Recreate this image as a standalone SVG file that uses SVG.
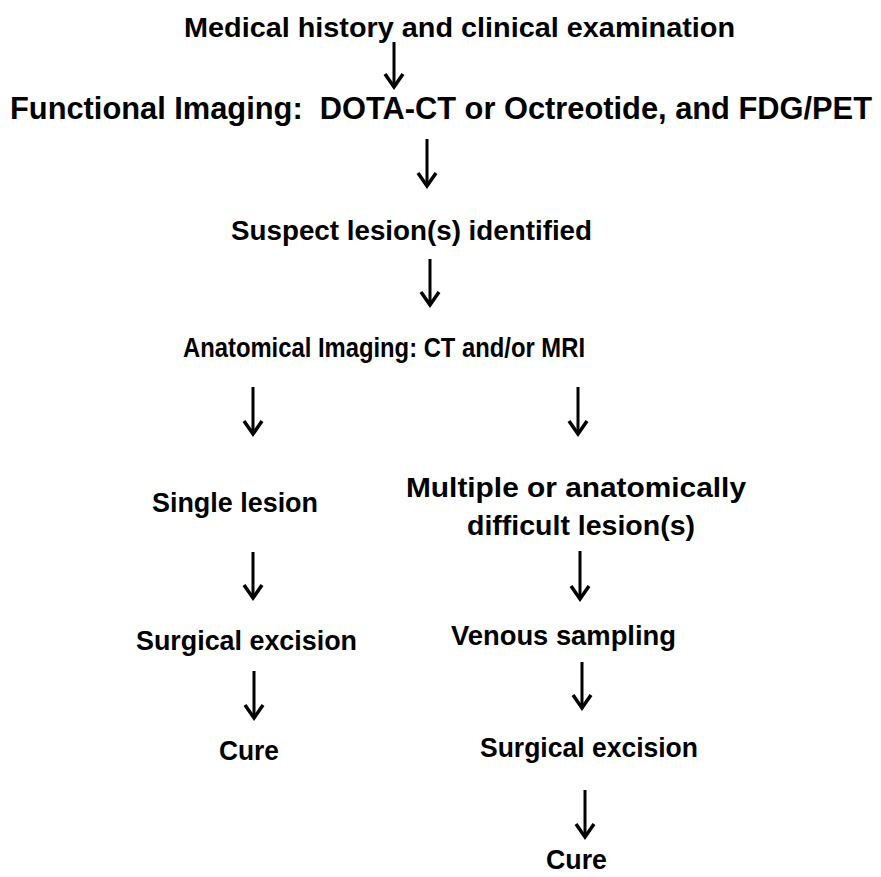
<svg xmlns="http://www.w3.org/2000/svg" width="881" height="877" viewBox="0 0 881 877">
<style>
text{font-family:"Liberation Sans",Arial,sans-serif;font-weight:bold;font-size:28px;fill:#000}
.big{font-size:31px}
.arr line{stroke:#000;stroke-width:3}
.arr polyline{fill:none;stroke:#000;stroke-width:3.5;stroke-linejoin:miter}
</style>
<rect width="881" height="877" fill="#fff"/>
<g id="n1"><text x="184" y="37" textLength="551" lengthAdjust="spacingAndGlyphs">Medical history and clinical examination</text></g>
<g id="n2"><text class="big" x="10" y="119" textLength="862" lengthAdjust="spacingAndGlyphs" xml:space="preserve">Functional Imaging:  DOTA-CT or Octreotide, and FDG/PET</text></g>
<g id="n3"><text x="231" y="240" textLength="361" lengthAdjust="spacingAndGlyphs">Suspect lesion(s) identified</text></g>
<g id="n4"><text x="183" y="357" textLength="402" lengthAdjust="spacingAndGlyphs">Anatomical Imaging: CT and/or MRI</text></g>
<g id="n5"><text x="152" y="512" textLength="166" lengthAdjust="spacingAndGlyphs">Single lesion</text></g>
<g id="n6"><text x="406" y="497" textLength="340" lengthAdjust="spacingAndGlyphs">Multiple or anatomically</text><text x="467" y="535" textLength="228" lengthAdjust="spacingAndGlyphs">difficult lesion(s)</text></g>
<g id="n7"><text x="136" y="650" textLength="221" lengthAdjust="spacingAndGlyphs">Surgical excision</text></g>
<g id="n8"><text x="451" y="645" textLength="225" lengthAdjust="spacingAndGlyphs">Venous sampling</text></g>
<g id="n9"><text x="219" y="760" textLength="60" lengthAdjust="spacingAndGlyphs">Cure</text></g>
<g id="n10"><text x="480" y="757" textLength="218" lengthAdjust="spacingAndGlyphs">Surgical excision</text></g>
<g id="n11"><text x="546" y="869" textLength="61" lengthAdjust="spacingAndGlyphs">Cure</text></g>
<g id="connectors" class="arr">
<line x1="394" y1="42" x2="394" y2="86"/><polyline points="385,74 394,87 403,74"/>
<line x1="427" y1="139" x2="427" y2="185"/><polyline points="418,173 427,186 436,173"/>
<line x1="430" y1="259" x2="430" y2="304"/><polyline points="421,292 430,305 439,292"/>
<line x1="253" y1="387" x2="253" y2="433"/><polyline points="244,421 253,434 262,421"/>
<line x1="578" y1="387" x2="578" y2="433"/><polyline points="569,421 578,434 587,421"/>
<line x1="253" y1="552" x2="253" y2="597"/><polyline points="244,585 253,598 262,585"/>
<line x1="580" y1="551" x2="580" y2="598"/><polyline points="571,586 580,599 589,586"/>
<line x1="254" y1="671" x2="254" y2="717"/><polyline points="245,705 254,718 263,705"/>
<line x1="582" y1="662" x2="582" y2="707"/><polyline points="573,695 582,708 591,695"/>
<line x1="585" y1="790" x2="585" y2="836"/><polyline points="576,824 585,837 594,824"/>
</g>
</svg>
